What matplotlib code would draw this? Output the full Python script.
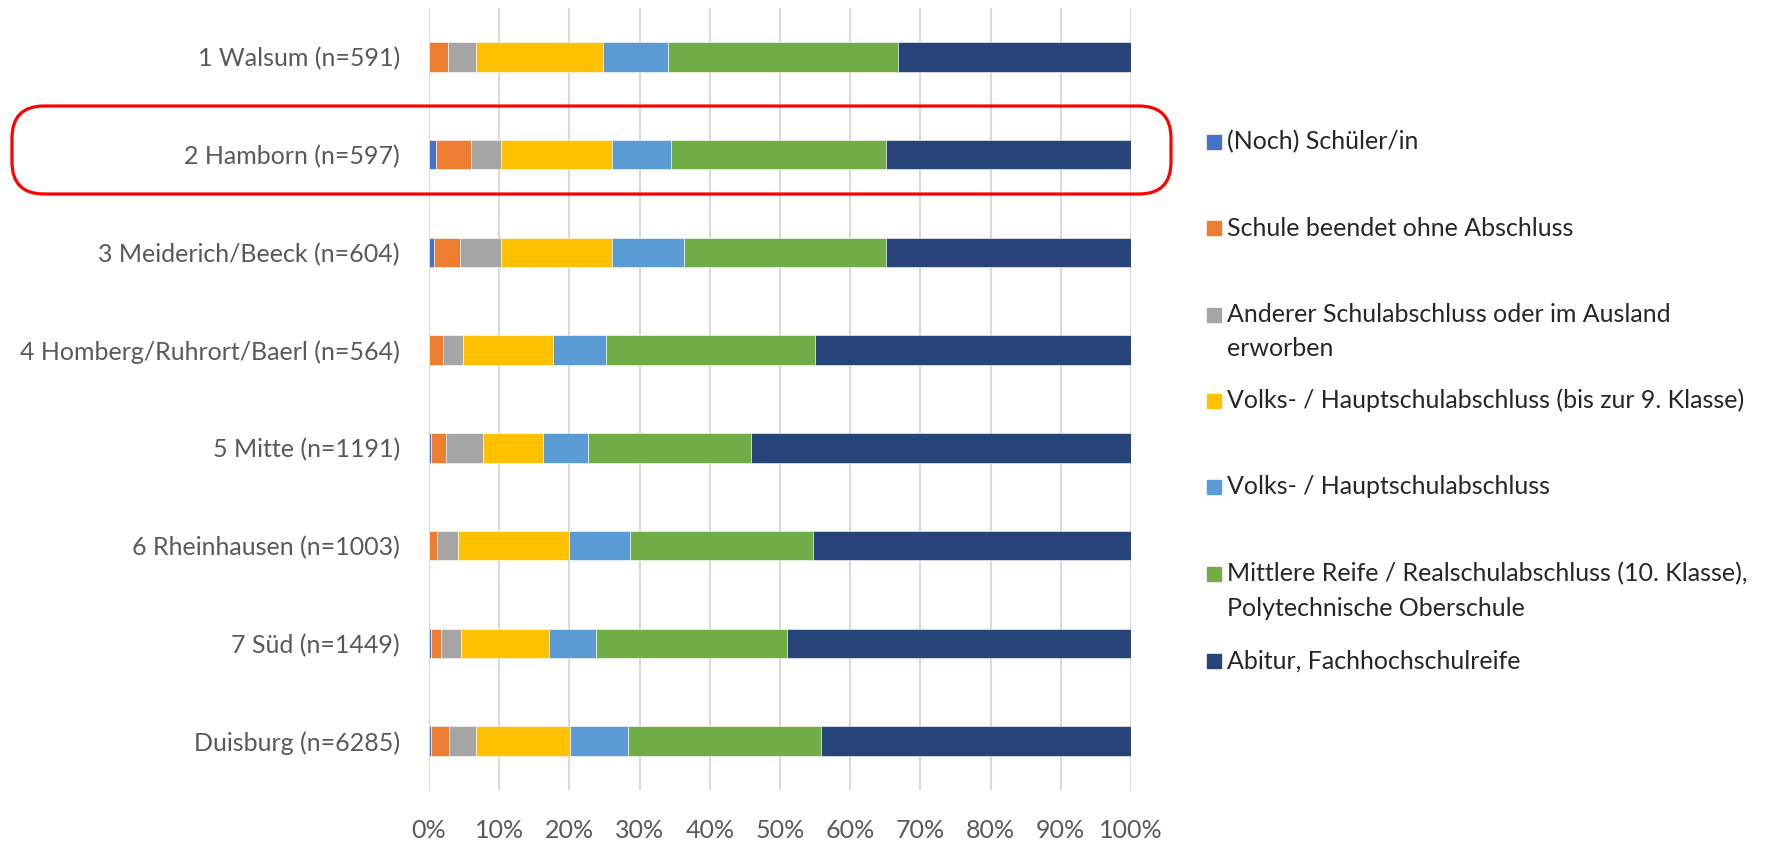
import numpy as np
import matplotlib.pyplot as plt
from matplotlib.patches import FancyBboxPatch, Rectangle
from matplotlib.ticker import PercentFormatter

plt.rcParams['font.family'] = ['Lato', 'DejaVu Sans']

# districts, top to bottom
districts = ['1 Walsum (n=591)', '2 Hamborn (n=597)', '3 Meiderich/Beeck (n=604)',
             '4 Homberg/Ruhrort/Baerl (n=564)', '5 Mitte (n=1191)',
             '6 Rheinhausen (n=1003)', '7 Süd (n=1449)', 'Duisburg (n=6285)']

# shares in percent
schueler   = [0.0, 0.95, 0.76, 0.0, 0.29, 0.0, 0.29, 0.29]
ohne_abs   = [2.66, 5.08, 3.61, 2.04, 2.13, 1.14, 1.47, 2.56]
anderer    = [4.04, 4.28, 5.94, 2.76, 5.32, 2.99, 2.80, 3.80]
haupt_9    = [18.1, 15.8, 15.8, 12.9, 8.56, 15.8, 12.5, 13.45]
haupt      = [9.2, 8.3, 10.2, 7.5, 6.36, 8.7, 6.8, 8.3]
mittlere   = [32.8, 30.7, 28.8, 29.85, 23.2, 26.0, 27.1, 27.5]
abitur     = [33.2, 34.9, 34.9, 44.95, 54.1, 45.4, 49.0, 44.1]

series = [schueler, ohne_abs, anderer, haupt_9, haupt, mittlere, abitur]
labels = ['(Noch) Schüler/in',
          'Schule beendet ohne Abschluss',
          'Anderer Schulabschluss oder im Ausland\nerworben',
          'Volks- / Hauptschulabschluss (bis zur 9. Klasse)',
          'Volks- / Hauptschulabschluss',
          'Mittlere Reife / Realschulabschluss (10. Klasse),\nPolytechnische Oberschule',
          'Abitur, Fachhochschulreife']
colors = ['#4472C4', '#ED7D31', '#A5A5A5', '#FFC000', '#5B9BD5', '#70AD47', '#264478']

W, H = 1777, 843
fig = plt.figure(figsize=(W / 100, H / 100), dpi=100)
ax = fig.add_axes([429 / W, (H - 790) / H, 702 / W, 782 / H])

y = np.arange(len(districts))
left = np.zeros(len(districts))
for vals, c, lab in zip(series, colors, labels):
    ax.barh(y, vals, left=left, height=0.3, color=c, edgecolor='white',
            linewidth=0.4, label=lab, zorder=3)
    left += np.array(vals)

ax.set_xlim(0, 100)
ax.set_ylim(len(districts) - 0.5, -0.5)
ax.set_yticks(y)
ax.set_yticklabels(districts)
ax.set_xticks(np.arange(0, 101, 10))
ax.xaxis.set_major_formatter(PercentFormatter(decimals=0))
ax.tick_params(axis='both', length=0, labelsize=18, colors='#595959')
ax.tick_params(axis='y', pad=21)
ax.tick_params(axis='x', pad=21)
ax.grid(axis='x', color='#D9D9D9', linewidth=1.5, zorder=0)
for s in ax.spines.values():
    s.set_visible(False)

# legend drawn by hand, Excel-style even spacing
leg_y = [141.7, 228, 315, 400.7, 487, 574, 661]
for ly, c, lab in zip(leg_y, colors, labels):
    fig.patches.append(Rectangle((1207 / W, (H - ly - 7) / H), 14 / W, 14 / H,
                                 transform=fig.transFigure, color=c))
    for k, line in enumerate(lab.split('\n')):
        fig.text(1227 / W, (H - ly - 34 * k) / H, line, fontsize=18,
                 color='#262626', va='center')

# red highlight around Hamborn
box = FancyBboxPatch((12 / W, (H - 194) / H), 1159 / W, 88 / H,
                     boxstyle='round,pad=0,rounding_size=0.018',
                     transform=fig.transFigure, fill=False,
                     edgecolor='#FF0000', linewidth=2.3, mutation_aspect=W / H)
fig.patches.append(box)

fig.savefig('out.png', dpi=100)
